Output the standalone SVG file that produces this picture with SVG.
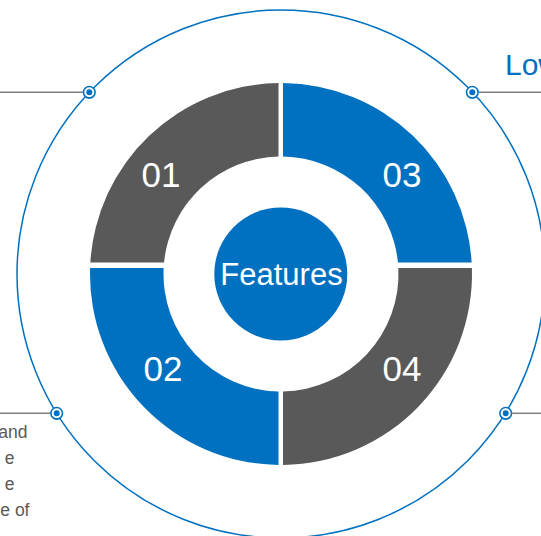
<svg xmlns="http://www.w3.org/2000/svg" width="541" height="536" viewBox="0 0 541 536">
  <style>
    .blue { fill: #0070C0; }
    .grey { fill: #595959; }
    .num { font-family: "Liberation Sans", Arial, sans-serif; font-size: 35px; fill: #FFFFFF; text-anchor: middle; }
    .title { font-family: "Liberation Sans", Arial, sans-serif; font-size: 31px; fill: #FFFFFF; text-anchor: middle; }
    .body { font-family: "Liberation Sans", Arial, sans-serif; font-size: 17.5px; fill: #595959; text-anchor: end; }
    .head { font-family: "Liberation Sans", Arial, sans-serif; font-size: 30px; fill: #0070C0; }
    .lead { stroke: #7F7F7F; stroke-width: 1.5; fill: none; }
    .ring { stroke: #0070C0; stroke-width: 1.5; fill: none; }
    .dotOuter { fill: #FFFFFF; stroke: #0070C0; stroke-width: 1.6; }
    .dotInner { fill: #0070C0; }
  </style>

  <rect width="541" height="536" fill="#FFFFFF"/>

  <!-- outer thin circle -->
  <circle class="ring" cx="281" cy="274" r="264"/>

  <g id="connectors">
    <line class="lead" x1="0" y1="92.3" x2="84" y2="92.3"/>
    <line class="lead" x1="478" y1="92.3" x2="541" y2="92.3"/>
    <line class="lead" x1="0" y1="413.3" x2="51" y2="413.3"/>
    <line class="lead" x1="511" y1="413.3" x2="541" y2="413.3"/>
    <circle class="dotOuter" cx="89.3" cy="92.3" r="5.8"/>
    <circle class="dotInner" cx="89.3" cy="92.3" r="3"/>
    <circle class="dotOuter" cx="472.3" cy="92.3" r="5.8"/>
    <circle class="dotInner" cx="472.3" cy="92.3" r="3"/>
    <circle class="dotOuter" cx="56.7" cy="413.3" r="5.8"/>
    <circle class="dotInner" cx="56.7" cy="413.3" r="3"/>
    <circle class="dotOuter" cx="505.7" cy="413.3" r="5.8"/>
    <circle class="dotInner" cx="505.7" cy="413.3" r="3"/>
  </g>

  <g id="seg01">
    <path class="grey" d="M 90.35 262.5 A 191 191 0 0 1 278.5 83.02 L 278.5 156.53 A 117.5 117.5 0 0 0 164.06 262.5 Z"/>
    <text class="num" x="161" y="187">01</text>
  </g>
  <g id="seg03">
    <path class="blue" d="M 283 83.01 A 191 191 0 0 1 471.65 262.5 L 397.94 262.5 A 117.5 117.5 0 0 0 283 156.52 Z"/>
    <text class="num" x="402" y="187">03</text>
  </g>
  <g id="seg02">
    <path class="blue" d="M 90.09 268 L 163.65 268 A 117.5 117.5 0 0 0 278.5 391.47 L 278.5 464.98 A 191 191 0 0 1 90.09 268 Z"/>
    <text class="num" x="163" y="381">02</text>
  </g>
  <g id="seg04">
    <path class="grey" d="M 471.91 268 A 191 191 0 0 1 283 464.99 L 283 391.48 A 117.5 117.5 0 0 0 398.35 268 Z"/>
    <text class="num" x="402" y="381">04</text>
  </g>

  <g id="center">
    <circle class="blue" cx="280.8" cy="274" r="66.5"/>
    <text class="title" x="281.5" y="285">Features</text>
  </g>

  <g id="label-top-right">
    <text class="head" x="505" y="74.5">Low</text>
  </g>

  <g id="label-bottom-left">
    <text class="body" x="27.5" y="438">and</text>
    <text class="body" x="14.5" y="464">e</text>
    <text class="body" x="14.5" y="490">e</text>
    <text class="body" x="29.5" y="516">e of</text>
  </g>
</svg>
